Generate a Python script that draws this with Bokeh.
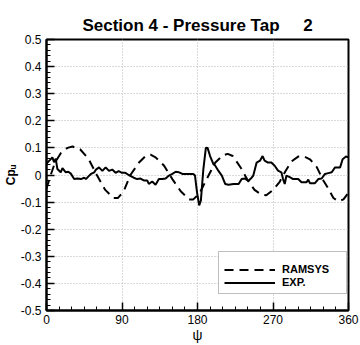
from bokeh.plotting import figure
from bokeh.models import FixedTicker, CustomJSTickFormatter, Legend, LegendItem
from bokeh.embed import file_html
from bokeh.resources import INLINE

# RAMSYS (dashed) prediction
ram_psi = [0, 5, 10, 17, 25, 31, 40, 50, 60, 70, 80, 85, 92, 100, 110, 118, 124, 130, 140, 150,
           160, 170, 175, 182, 191, 201, 210, 216, 222, 232, 240, 248, 256, 262, 270, 278, 285,
           292, 300, 306, 314, 322, 330, 336, 342, 348, 354, 360]
ram_cp = [-0.05, 0.0, 0.045, 0.08, 0.1, 0.105, 0.095, 0.06, 0.0, -0.055, -0.085, -0.085, -0.06,
          0.0, 0.045, 0.07, 0.075, 0.065, 0.035, -0.015, -0.06, -0.09, -0.09, -0.07, -0.015,
          0.045, 0.072, 0.078, 0.07, 0.025, -0.02, -0.055, -0.072, -0.075, -0.055, -0.025, 0.015,
          0.05, 0.068, 0.07, 0.058, 0.03, -0.02, -0.05, -0.085, -0.097, -0.09, -0.065]

# Experiment (solid)
exp_psi = [0, 1.4, 4, 7, 9, 11, 13, 17, 19, 23, 26, 29, 33, 37, 41, 45, 47, 50, 53, 57, 59, 62.6,
           66.6, 70.5, 74.5, 78.4, 82.4, 86, 90, 94, 98, 104, 108, 112, 116, 120, 122, 126, 130,
           134, 138, 142, 146, 150, 154, 158, 162, 166, 170, 175, 177, 179.4, 182, 184, 187, 190,
           192, 195, 199, 201, 205, 209, 213, 217, 223, 229, 232.7, 236.6, 240.5, 244.5, 246.5,
           250.5, 254.5, 257.6, 260, 264, 268, 272, 276, 280, 282, 284, 286, 290, 294, 300, 304,
           310, 312, 314, 320, 324, 328, 332, 336, 340, 344, 350, 353, 357, 360]
exp_cp = [0.04, 0.047, 0.055, 0.065, 0.047, 0.06, 0.022, 0.01, 0.025, 0.01, 0.012, 0.005, -0.015,
          -0.013, -0.015, -0.01, -0.015, -0.005, 0.004, 0.01, 0.02, 0.028, 0.015, 0.028, 0.015,
          0.02, 0.008, 0.014, 0.008, 0.008, 0.0, -0.01, -0.015, -0.013, -0.02, -0.02, -0.033,
          -0.024, -0.036, -0.015, -0.015, -0.013, -0.002, 0.004, 0.012, 0.01, 0.004, 0.004, 0.004,
          0.004, -0.002, -0.063, -0.112, -0.095, 0.022, 0.101, 0.1, 0.07, 0.04, 0.035, 0.015,
          -0.002, -0.033, -0.036, -0.033, -0.033, -0.015, -0.013, -0.022, -0.01, -0.002, 0.046,
          0.053, 0.07, 0.053, 0.046, 0.046, 0.034, 0.016, 0.01, -0.015, -0.033, -0.002, -0.008,
          -0.015, -0.015, -0.027, -0.027, -0.017, -0.03, -0.03, -0.015, -0.013, 0.004, 0.007,
          0.01, 0.028, 0.028, 0.058, 0.068, 0.065]

x_ticks = [0, 90, 180, 270, 360]
x_minor = list(range(0, 361, 15))
y_ticks = [-0.5, -0.4, -0.3, -0.2, -0.1, 0, 0.1, 0.2, 0.3, 0.4, 0.5]
y_minor = [round(-0.5 + 0.02 * i, 2) for i in range(51)]

title_text = "Section 4 - Pressure Tap" + "\u00a0" * 5 + "2"
FONT = "Liberation Sans"

p = figure(width=360, height=345, output_backend="svg", toolbar_location=None,
           x_range=(0, 360), y_range=(-0.5, 0.5),
           min_border_left=45, min_border_right=12, min_border_top=39, min_border_bottom=32,
           title=title_text)

p.title.text_font = FONT
p.title.text_font_size = "17px"
p.title.text_font_style = "bold"
p.title.align = "center"
p.title.text_color = "black"

p.outline_line_color = "black"
p.outline_line_width = 2
p.outline_line_alpha = 1

for ax in (p.xaxis[0], p.yaxis[0]):
    ax.axis_line_width = 2
    ax.axis_line_color = "black"
    ax.major_tick_in = 8
    ax.major_tick_out = 0
    ax.minor_tick_in = 4
    ax.minor_tick_out = 0
    ax.major_tick_line_width = 1.5
    ax.major_tick_line_color = "black"
    ax.minor_tick_line_color = "black"
    ax.major_label_text_font = FONT
    ax.major_label_text_font_size = "12px"
    ax.major_label_text_color = "black"
    ax.axis_label_text_font = FONT
    ax.axis_label_text_color = "black"

p.xaxis.ticker = FixedTicker(ticks=x_ticks, minor_ticks=x_minor)
p.yaxis.ticker = FixedTicker(ticks=y_ticks, minor_ticks=y_minor)
p.yaxis.formatter = CustomJSTickFormatter(
    code="var s = tick.toFixed(1); if (s == '0.0' || s == '-0.0') return '0'; return s;")
p.xaxis.major_label_standoff = 4
p.yaxis.major_label_standoff = 5

p.xaxis.axis_label = "ψ"
p.xaxis.axis_label_text_font_size = "14px"
p.xaxis.axis_label_text_font_style = "normal"
p.xaxis.axis_label_standoff = 0
p.yaxis.axis_label = "Cpᵤ"
p.yaxis.axis_label_text_font_size = "12px"
p.yaxis.axis_label_text_font_style = "bold"
p.yaxis.axis_label_standoff = 0

p.xgrid.ticker = FixedTicker(ticks=x_ticks)
p.ygrid.ticker = FixedTicker(ticks=y_ticks)
for g in (p.xgrid[0], p.ygrid[0]):
    g.grid_line_color = "#b4b4b4"
    g.grid_line_dash = "1 2"
    g.grid_line_width = 1

r_ram = p.line(ram_psi, ram_cp, line_color="black", line_width=2, line_dash="9 6")
r_exp = p.line(exp_psi, exp_cp, line_color="black", line_width=2)

legend = Legend(items=[LegendItem(label="RAMSYS", renderers=[r_ram]),
                       LegendItem(label="EXP.", renderers=[r_exp])],
                location=(172, 16), orientation="vertical")
legend.border_line_color = "#808080"
legend.border_line_width = 1
legend.background_fill_color = "white"
legend.background_fill_alpha = 1
legend.padding = 5
legend.spacing = 1
legend.margin = 0
legend.label_height = 11
legend.glyph_height = 11
legend.glyph_width = 51
legend.label_width = 59
legend.label_standoff = 7
legend.label_text_font = FONT
legend.label_text_font_size = "11px"
legend.label_text_font_style = "bold"
legend.label_text_color = "black"
legend.title = "\u00a0"
legend.title_text_font_size = "6px"
legend.title_standoff = 0
p.add_layout(legend)

open("out.html", "w").write(file_html(p, INLINE))
